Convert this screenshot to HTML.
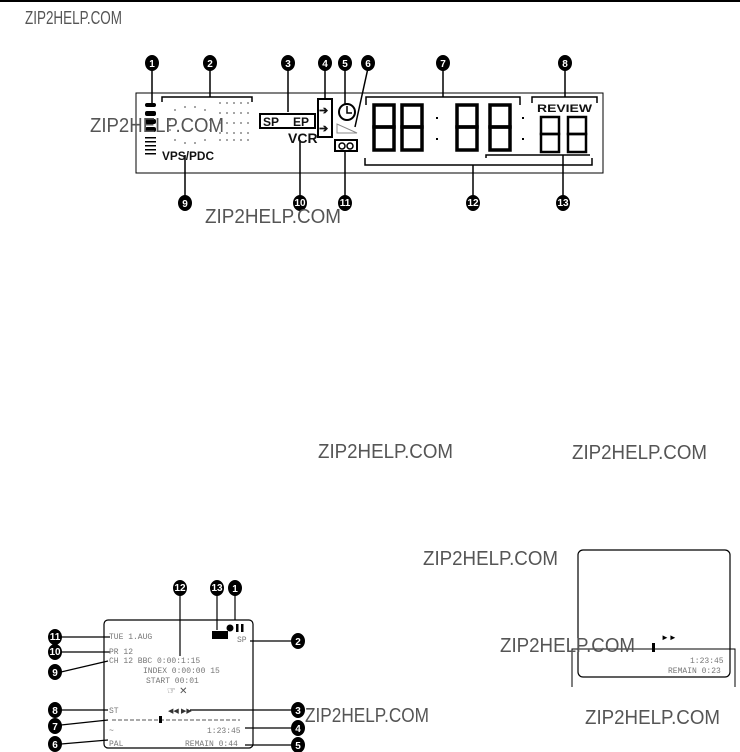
<!DOCTYPE html>
<html><head><meta charset="utf-8"><style>
html,body{margin:0;padding:0;background:#fff;}
svg{display:block;}
.wm{font-family:"Liberation Sans",sans-serif;fill:#555;}
.n{font-family:"Liberation Sans",sans-serif;font-weight:bold;fill:#fff;font-size:10px;text-anchor:middle;}
.osd{font-family:"Liberation Mono",monospace;fill:#777;font-size:8px;}
.lcd{font-family:"Liberation Sans",sans-serif;font-weight:bold;fill:#111;}
</style></head><body>
<svg width="740" height="752" viewBox="0 0 740 752" xmlns="http://www.w3.org/2000/svg">
<rect x="0" y="0" width="740" height="2" fill="#000"/>
<text class="wm" x="25" y="24" font-size="18" textLength="97" lengthAdjust="spacingAndGlyphs">ZIP2HELP.COM</text>

<rect x="136" y="93" width="467" height="80" fill="none" stroke="#000" stroke-width="1"/>
<g stroke="#000" stroke-width="1.5" fill="none">
<line x1="152" y1="68" x2="152" y2="103"/>
<line x1="210" y1="68" x2="210" y2="97"/>
<polyline points="162,102 162,97 252,97 252,102"/>
<line x1="288" y1="68" x2="288" y2="112"/>
<line x1="325" y1="68" x2="325" y2="100"/>
<line x1="345" y1="68" x2="345" y2="105"/>
<line x1="368" y1="68" x2="355" y2="127"/>
<line x1="443" y1="68" x2="443" y2="97"/>
<polyline points="366,105 366,97 520,97 520,105"/>
<line x1="565" y1="68" x2="565" y2="97"/>
<polyline points="532,103 532,97 597,97 597,103"/>
<line x1="185" y1="155" x2="185" y2="197"/>
<line x1="300" y1="140" x2="300" y2="197"/>
<line x1="345" y1="150" x2="345" y2="197"/>
<polyline points="365,158 365,165 592,165 592,158"/>
<line x1="473" y1="165" x2="473" y2="197"/>
<polyline points="486,158 486,155 590,155"/>
<line x1="563" y1="155" x2="563" y2="197"/>
</g>
<g>
<ellipse cx="152" cy="63" rx="7" ry="8"/><text class="n" x="152" y="67">1</text>
<ellipse cx="210" cy="63" rx="7" ry="8"/><text class="n" x="210" y="67">2</text>
<ellipse cx="288" cy="63" rx="7" ry="8"/><text class="n" x="288" y="67">3</text>
<ellipse cx="325" cy="63" rx="7" ry="8"/><text class="n" x="325" y="67">4</text>
<ellipse cx="345" cy="63" rx="7" ry="8"/><text class="n" x="345" y="67">5</text>
<ellipse cx="368" cy="63" rx="7" ry="8"/><text class="n" x="368" y="67">6</text>
<ellipse cx="443" cy="63" rx="7" ry="8"/><text class="n" x="443" y="67">7</text>
<ellipse cx="565" cy="63" rx="7" ry="8"/><text class="n" x="565" y="67">8</text>
<ellipse cx="185" cy="203" rx="7" ry="8"/><text class="n" x="185" y="207">9</text>
<ellipse cx="300" cy="203" rx="7" ry="8"/><text class="n" x="300" y="206" font-size="8">10</text>
<ellipse cx="345" cy="203" rx="7" ry="8"/><text class="n" x="345" y="206" font-size="8">11</text>
<ellipse cx="473" cy="203" rx="7" ry="8"/><text class="n" x="473" y="206" font-size="8">12</text>
<ellipse cx="563" cy="203" rx="7" ry="8"/><text class="n" x="563" y="206" font-size="8">13</text>
</g>
<g fill="#000">
<rect x="145" y="103" width="11" height="4" rx="2"/>
<rect x="145" y="111" width="11" height="5" rx="2"/>
<rect x="145" y="119" width="11" height="5" rx="2"/>
<rect x="145" y="127" width="11" height="5" rx="2"/>
<rect x="145" y="137" width="11" height="1.5"/>
<rect x="145" y="141" width="11" height="1.5"/>
<rect x="145" y="145" width="11" height="1.5"/>
<rect x="145" y="149" width="11" height="1.5"/>
<rect x="145" y="153" width="11" height="1.5"/>
</g>
<g fill="#666">
<circle cx="175" cy="110" r="0.9"/><circle cx="185" cy="107" r="0.9"/><circle cx="195" cy="107" r="0.9"/><circle cx="205" cy="110" r="0.9"/>
<circle cx="170" cy="120" r="0.9"/><circle cx="210" cy="120" r="0.9"/><circle cx="170" cy="130" r="0.9"/><circle cx="210" cy="130" r="0.9"/>
<circle cx="175" cy="140" r="0.9"/><circle cx="185" cy="143" r="0.9"/><circle cx="195" cy="143" r="0.9"/><circle cx="205" cy="140" r="0.9"/>
<circle cx="220" cy="103" r="0.9"/><circle cx="227" cy="103" r="0.9"/><circle cx="234" cy="103" r="0.9"/><circle cx="241" cy="103" r="0.9"/><circle cx="248" cy="103" r="0.9"/>
<circle cx="220" cy="113" r="0.9"/><circle cx="227" cy="113" r="0.9"/><circle cx="234" cy="113" r="0.9"/><circle cx="241" cy="113" r="0.9"/><circle cx="248" cy="113" r="0.9"/>
<circle cx="220" cy="123" r="0.9"/><circle cx="227" cy="123" r="0.9"/><circle cx="234" cy="123" r="0.9"/><circle cx="241" cy="123" r="0.9"/><circle cx="248" cy="123" r="0.9"/>
<circle cx="220" cy="133" r="0.9"/><circle cx="227" cy="133" r="0.9"/><circle cx="234" cy="133" r="0.9"/><circle cx="241" cy="133" r="0.9"/><circle cx="248" cy="133" r="0.9"/>
<circle cx="220" cy="140" r="0.9"/><circle cx="227" cy="140" r="0.9"/><circle cx="234" cy="140" r="0.9"/><circle cx="241" cy="140" r="0.9"/><circle cx="248" cy="140" r="0.9"/>
</g>
<text class="lcd" x="162" y="160" font-size="12" textLength="52" lengthAdjust="spacingAndGlyphs">VPS/PDC</text>
<rect x="260" y="114" width="55" height="14" fill="none" stroke="#000" stroke-width="2"/>
<text class="lcd" x="263" y="126" font-size="12">SP</text>
<text class="lcd" x="293" y="126" font-size="12">EP</text>
<text class="lcd" x="288" y="143" font-size="14">VCR</text>
<rect x="318" y="99" width="14" height="38" fill="none" stroke="#000" stroke-width="2"/>
<text class="lcd" x="319" y="114" font-size="11">➔</text>
<text class="lcd" x="319" y="132" font-size="11">➔</text>
<circle cx="347" cy="112" r="8" fill="none" stroke="#000" stroke-width="2"/>
<polyline points="347,106 347,113 352,113" fill="none" stroke="#000" stroke-width="1.5"/>
<polygon points="337,124 337,133 357,133" fill="none" stroke="#888" stroke-width="1"/>
<rect x="335" y="140" width="22" height="11" fill="none" stroke="#000" stroke-width="2"/>
<circle cx="342" cy="146" r="3" fill="none" stroke="#000" stroke-width="1.5"/>
<circle cx="350" cy="146" r="3" fill="none" stroke="#000" stroke-width="1.5"/>
<g fill="none" stroke="#000" stroke-width="3.5">
<rect x="374" y="105" width="20" height="22"/><rect x="374" y="127" width="20" height="23"/>
<rect x="402" y="105" width="20" height="22"/><rect x="402" y="127" width="20" height="23"/>
<rect x="457" y="105" width="20" height="22"/><rect x="457" y="127" width="20" height="23"/>
<rect x="490" y="105" width="20" height="22"/><rect x="490" y="127" width="20" height="23"/>
</g>
<g fill="none" stroke="#000" stroke-width="2.5">
<rect x="541" y="117" width="18" height="17"/><rect x="541" y="134" width="18" height="18"/>
<rect x="568" y="117" width="18" height="17"/><rect x="568" y="134" width="18" height="18"/>
</g>
<g fill="#000">
<rect x="436" y="117" width="2" height="2"/><rect x="436" y="138" width="2" height="2"/>
<rect x="522" y="117" width="2" height="2"/><rect x="522" y="138" width="2" height="2"/>
</g>
<text class="lcd" x="537" y="112" font-size="11" textLength="55" lengthAdjust="spacingAndGlyphs">REVIEW</text>
<text class="wm" x="90" y="132" font-size="20" textLength="134" lengthAdjust="spacingAndGlyphs">ZIP2HELP.COM</text>
<text class="wm" x="205" y="223" font-size="20" textLength="136" lengthAdjust="spacingAndGlyphs">ZIP2HELP.COM</text>

<text class="wm" x="318" y="458" font-size="20" textLength="135" lengthAdjust="spacingAndGlyphs">ZIP2HELP.COM</text>
<text class="wm" x="572" y="459" font-size="20" textLength="135" lengthAdjust="spacingAndGlyphs">ZIP2HELP.COM</text>
<text class="wm" x="423" y="565" font-size="20" textLength="135" lengthAdjust="spacingAndGlyphs">ZIP2HELP.COM</text>

<rect x="578" y="550" width="152" height="127" rx="5" fill="none" stroke="#000" stroke-width="1.2"/>
<polyline points="572,687 572,649 735,649 735,687" fill="none" stroke="#000" stroke-width="1"/>
<rect x="652" y="643" width="3" height="9" fill="#000"/>
<text x="661" y="640" font-size="8" font-family="Liberation Sans,sans-serif" font-weight="bold">►►</text>
<text class="osd" x="690" y="663">1:23:45</text>
<text class="osd" x="668" y="673">REMAIN 0:23</text>
<text class="wm" x="500" y="652" font-size="20" textLength="135" lengthAdjust="spacingAndGlyphs">ZIP2HELP.COM</text>
<text class="wm" x="585" y="724" font-size="20" textLength="135" lengthAdjust="spacingAndGlyphs">ZIP2HELP.COM</text>

<rect x="104" y="620" width="149" height="128" rx="4" fill="none" stroke="#000" stroke-width="1.2"/>
<g stroke="#000" stroke-width="1.2" fill="none">
<line x1="61" y1="637" x2="110" y2="637"/>
<line x1="61" y1="652" x2="110" y2="652"/>
<line x1="61" y1="672" x2="108" y2="661"/>
<line x1="61" y1="710" x2="108" y2="710"/>
<line x1="61" y1="725" x2="108" y2="720"/>
<line x1="61" y1="744" x2="108" y2="740"/>
<line x1="180" y1="594" x2="180" y2="656"/>
<line x1="217" y1="594" x2="217" y2="630"/>
<line x1="235" y1="594" x2="235" y2="620"/>
<line x1="250" y1="641" x2="292" y2="641"/>
<line x1="190" y1="710" x2="292" y2="710"/>
<line x1="245" y1="728" x2="292" y2="728"/>
<line x1="245" y1="745" x2="292" y2="745"/>
</g>
<g>
<ellipse cx="55" cy="637" rx="7" ry="8"/><text class="n" x="55" y="640" font-size="8">11</text>
<ellipse cx="55" cy="652" rx="7" ry="8"/><text class="n" x="55" y="655" font-size="8">10</text>
<ellipse cx="55" cy="672" rx="7" ry="8"/><text class="n" x="55" y="676">9</text>
<ellipse cx="55" cy="710" rx="7" ry="8"/><text class="n" x="55" y="714">8</text>
<ellipse cx="55" cy="726" rx="7" ry="8"/><text class="n" x="55" y="730">7</text>
<ellipse cx="55" cy="744" rx="7" ry="8"/><text class="n" x="55" y="748">6</text>
<ellipse cx="180" cy="588" rx="7" ry="8"/><text class="n" x="180" y="591" font-size="8">12</text>
<ellipse cx="217" cy="588" rx="7" ry="8"/><text class="n" x="217" y="591" font-size="8">13</text>
<ellipse cx="235" cy="588" rx="7" ry="8"/><text class="n" x="235" y="592">1</text>
<ellipse cx="298" cy="641" rx="7" ry="8"/><text class="n" x="298" y="645">2</text>
<ellipse cx="298" cy="710" rx="7" ry="8"/><text class="n" x="298" y="714">3</text>
<ellipse cx="298" cy="728" rx="7" ry="8"/><text class="n" x="298" y="732">4</text>
<ellipse cx="298" cy="745" rx="7" ry="8"/><text class="n" x="298" y="749">5</text>
</g>
<circle cx="230" cy="628" r="3.5" fill="#000"/>
<rect x="236" y="624" width="2.5" height="8" fill="#000"/><rect x="241" y="624" width="2.5" height="8" fill="#000"/>
<rect x="212" y="631" width="16" height="8" fill="#000"/>
<text class="osd" x="109" y="639">TUE 1.AUG</text>
<text class="osd" x="237" y="642">SP</text>
<text class="osd" x="109" y="654">PR 12</text>
<text class="osd" x="109" y="663">CH 12 BBC  0:00:1:15</text>
<text class="osd" x="143" y="673">INDEX 0:00:00 15</text>
<text class="osd" x="146" y="683">START 00:01</text>
<text x="167" y="694" font-size="10" font-family="DejaVu Sans,sans-serif" fill="#555">☞ ✕</text>
<text class="osd" x="109" y="713">ST</text>
<text x="168" y="713" font-size="7" font-family="DejaVu Sans,sans-serif" fill="#333">◀◀ ▶▶</text>
<line x1="112" y1="720" x2="240" y2="720" stroke="#555" stroke-width="1" stroke-dasharray="4,2"/>
<rect x="159" y="716" width="3" height="7" fill="#000"/>
<text class="osd" x="109" y="733">~</text>
<text class="osd" x="207" y="733">1:23:45</text>
<text class="osd" x="109" y="746">PAL</text>
<text class="osd" x="185" y="746">REMAIN  0:44</text>
<text class="wm" x="305" y="722" font-size="20" textLength="124" lengthAdjust="spacingAndGlyphs">ZIP2HELP.COM</text>
</svg>
</body></html>
